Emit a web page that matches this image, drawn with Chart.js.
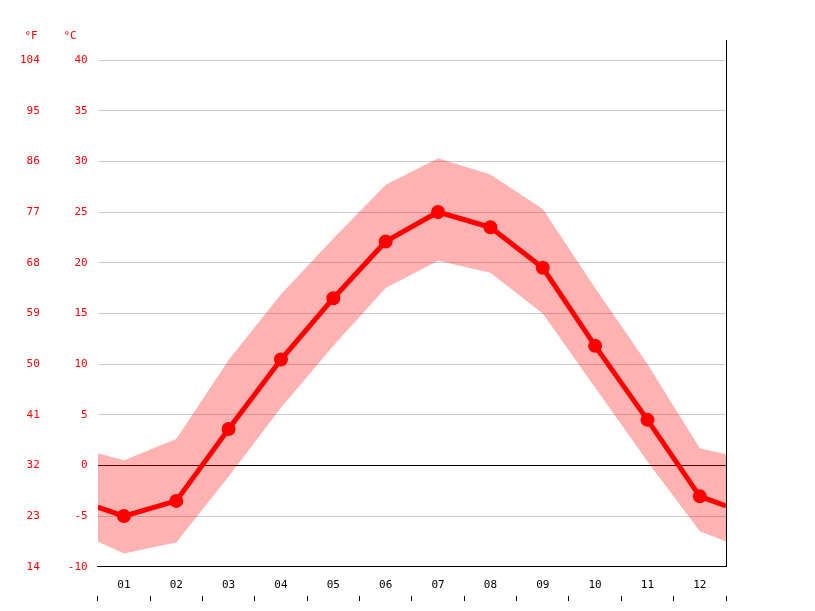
<!DOCTYPE html>
<html><head><meta charset="utf-8">
<script src="https://cdn.jsdelivr.net/npm/chart.js@4"></script>
<style>html,body{margin:0;padding:0;background:#fff}</style>
</head><body><canvas id="c" width="815" height="611"></canvas>
<script>
const months=["01","02","03","04","05","06","07","08","09","10","11","12"];
const xPos=[0.5,1,2,3,4,5,6,7,8,9,10,11,12,12.5];
const meanT=[-4.1,-5.0,-3.5,3.6,10.45,16.5,22.1,25.0,23.5,19.5,11.8,4.5,-3.05,-4.0];
const highT=[1.2,0.5,2.6,10.4,16.9,22.4,27.7,30.3,28.7,25.3,17.5,10.0,1.7,1.1];
const lowT=[-7.5,-8.7,-7.6,-1.1,5.7,11.8,17.5,20.2,19.0,15.0,7.7,0.4,-6.5,-7.5];
const pts=a=>a.map((v,i)=>({x:xPos[i],y:v}));
const font={family:"DejaVu Sans Mono",size:11};
const extra={id:'extra',afterDraw(ch){const c=ch.ctx,a=ch.chartArea;c.save();
c.strokeStyle='#000';c.lineWidth=1;c.beginPath();c.moveTo(a.right+0.5,40);c.lineTo(a.right+0.5,a.bottom);c.stroke();
c.fillStyle='red';c.font='11px "DejaVu Sans Mono"';c.textAlign='center';
c.fillText('°F',31,39);c.fillText('°C',70,39);c.restore();}};
new Chart(document.getElementById('c'),{type:'line',
data:{datasets:[
{data:pts(highT),borderWidth:0,pointRadius:0,fill:'+1',backgroundColor:'rgba(255,0,0,0.3)',borderColor:'rgba(0,0,0,0)',order:2},
{data:pts(lowT),borderWidth:0,pointRadius:0,fill:false,borderColor:'rgba(0,0,0,0)',order:2},
{data:pts(meanT),borderColor:'#ff0000',backgroundColor:'#ff0000',borderWidth:5,pointRadius:xPos.map(x=>x%1?0:4.5),pointHoverRadius:0,fill:false,order:1}
]},
options:{responsive:false,animation:false,
layout:{padding:{top:60,right:89,bottom:10,left:10}},
plugins:{legend:{display:false},tooltip:{enabled:false}},
scales:{
x:{type:'linear',min:0.5,max:12.5,afterBuildTicks:s=>{s.ticks=months.map((m,i)=>({value:i+1}))},
ticks:{callback:v=>months[v-1],color:'#000',font,padding:4},grid:{display:false},border:{color:'#000'}},
x2:{type:'linear',position:'bottom',min:0.5,max:12.5,afterBuildTicks:s=>{s.ticks=[0.5,1.5,2.5,3.5,4.5,5.5,6.5,7.5,8.5,9.5,10.5,11.5,12.5].map(v=>({value:v}))},
ticks:{display:false},grid:{drawOnChartArea:false,tickLength:5,color:'#000'},border:{display:false}},
y:{min:-10,max:40,weight:0,ticks:{stepSize:5,color:'red',font,padding:10},
grid:{color:c=>c.tick&&c.tick.value===0?'#000':'#ccc',drawTicks:false},border:{display:false}},
y2:{min:-10,max:40,position:'left',weight:1,ticks:{stepSize:5,color:'red',font,padding:10,callback:v=>Math.round(v*9/5+32)},grid:{display:false},border:{display:false}}
}},
plugins:[extra]});
</script>
</body></html>
